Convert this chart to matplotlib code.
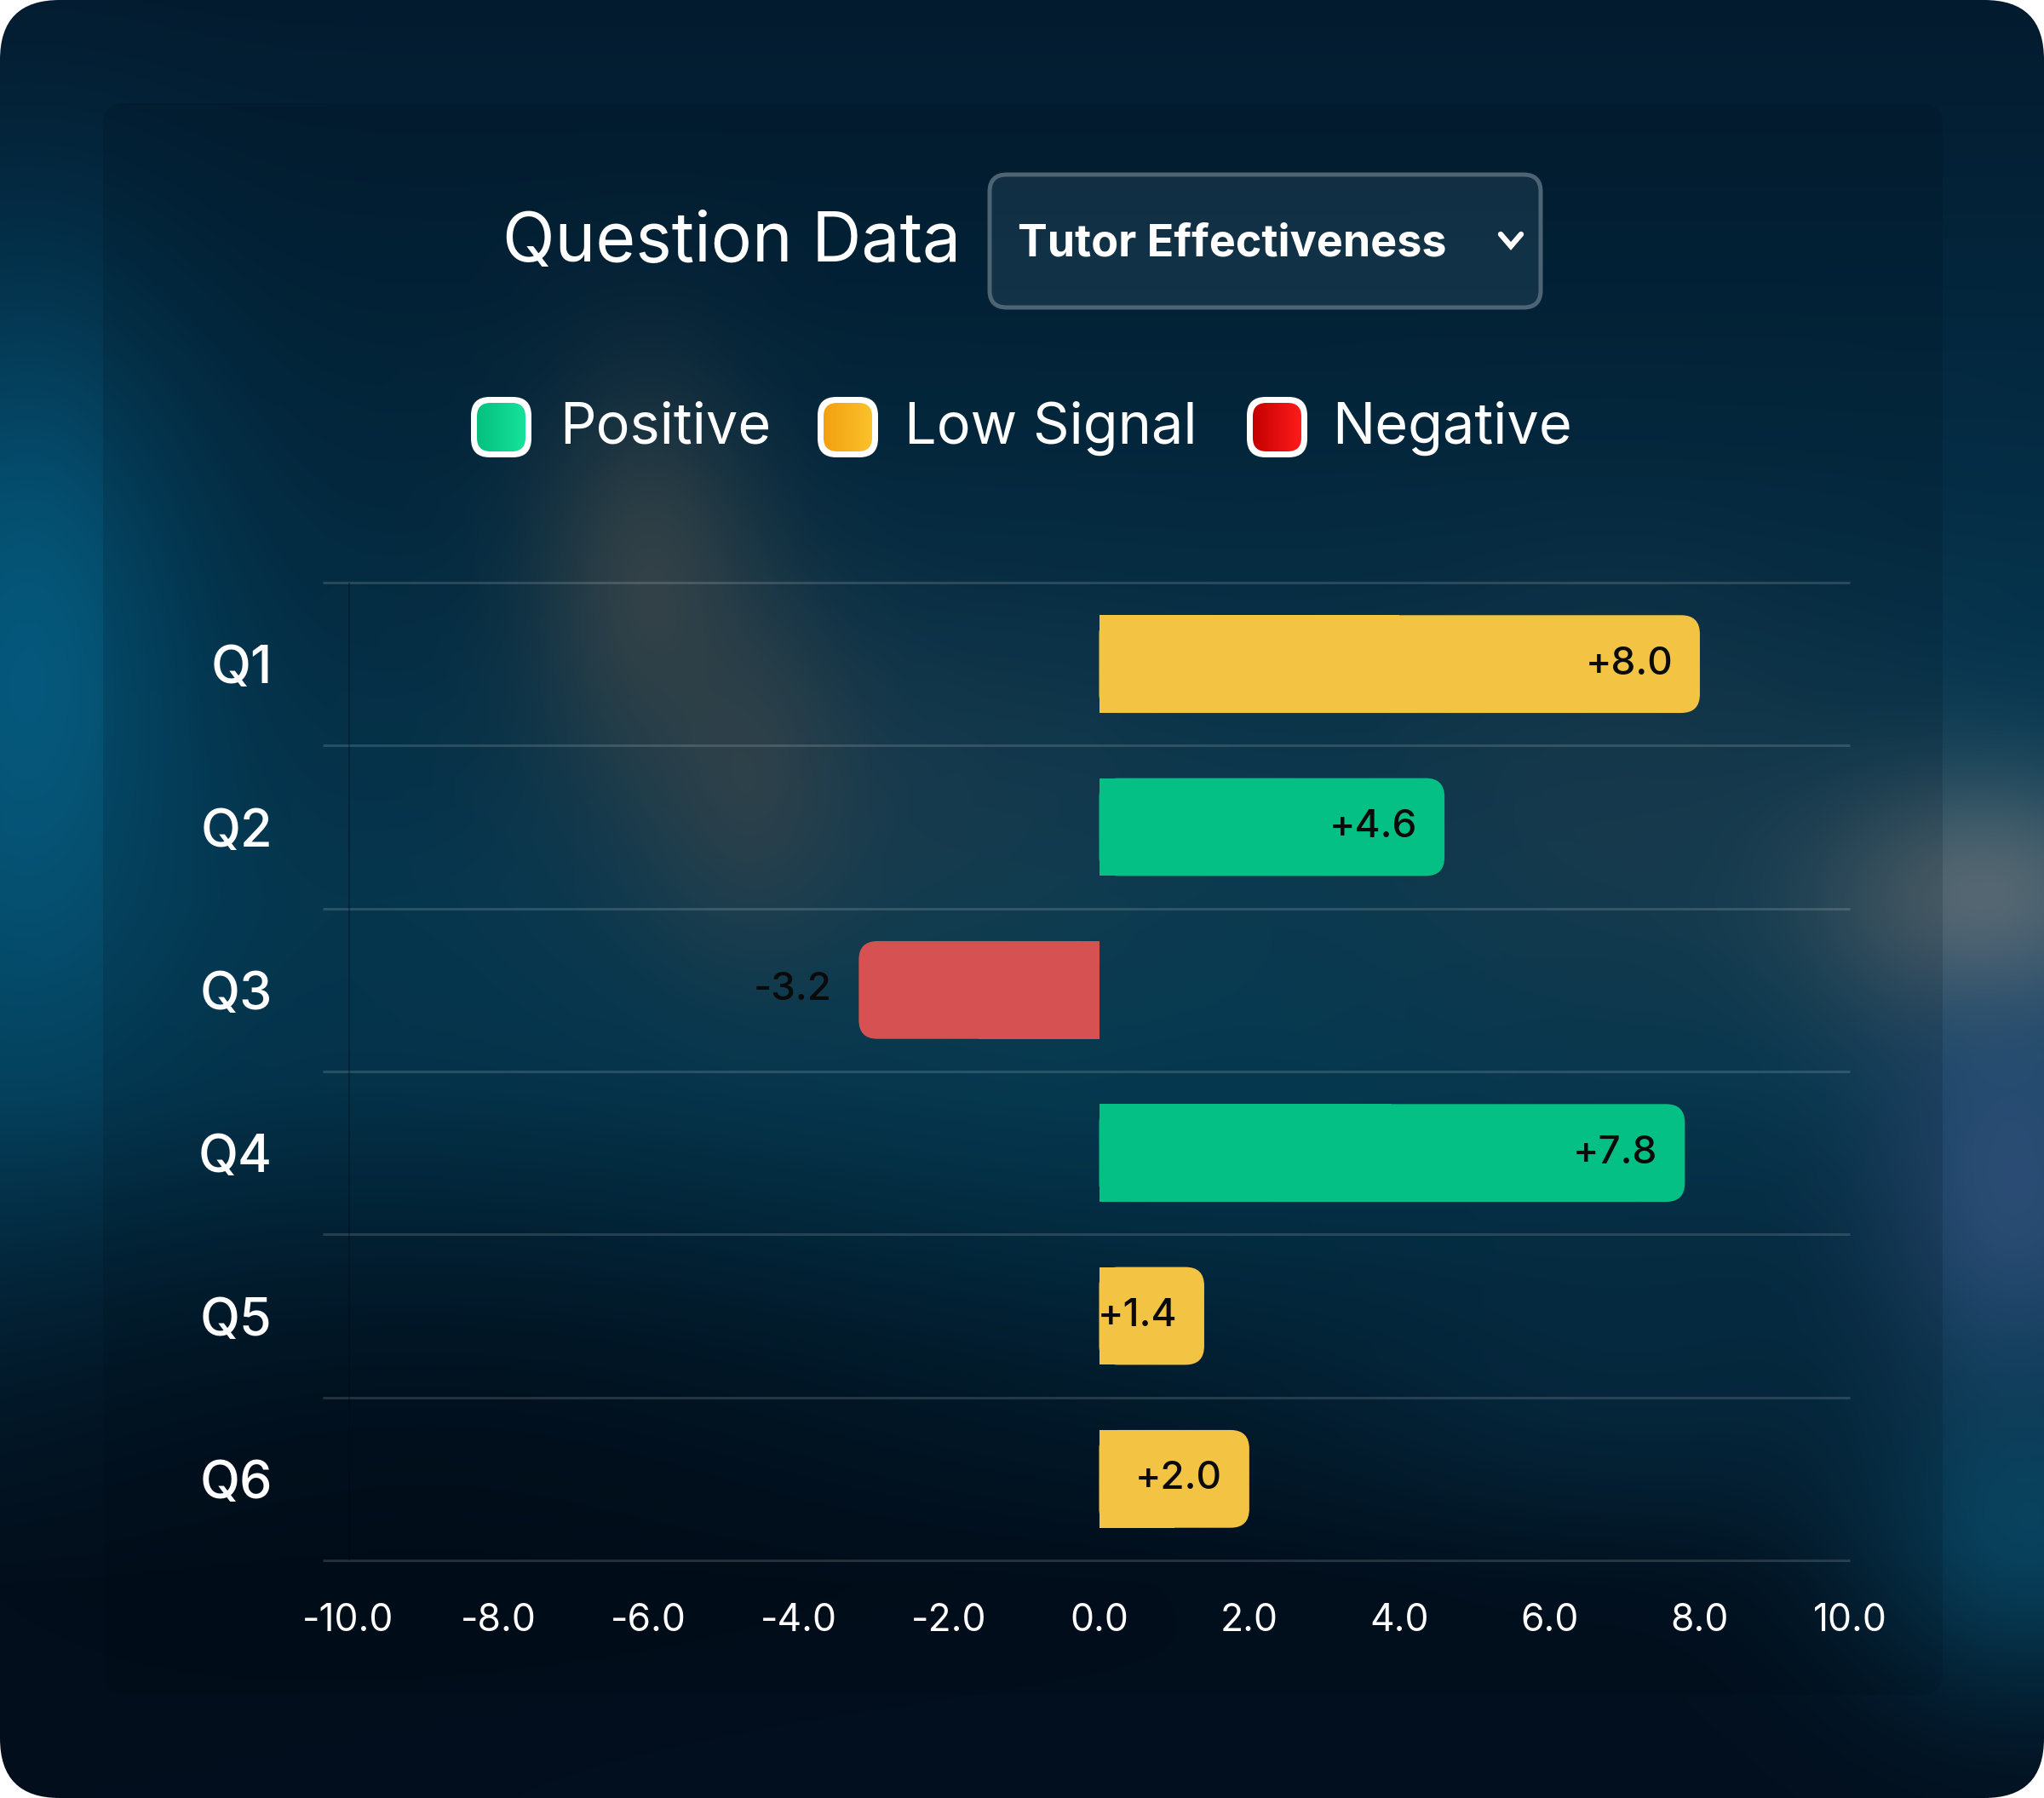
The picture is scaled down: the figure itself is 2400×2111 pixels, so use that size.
import numpy as np
import matplotlib
matplotlib.use("Agg")
import matplotlib.pyplot as plt
from matplotlib.patches import FancyBboxPatch
from matplotlib.lines import Line2D

plt.rcParams['font.family'] = ['Inter', 'DejaVu Sans']
plt.rcParams['axes.unicode_minus'] = False

# data
questions = ['Q1', 'Q2', 'Q3', 'Q4', 'Q5', 'Q6']
scores = [8.0, 4.6, -3.2, 7.8, 1.4, 2.0]
signal = ['low', 'positive', 'negative', 'positive', 'low', 'low']
legend_labels = ['Positive', 'Low Signal', 'Negative']
xticks = [-10, -8, -6, -4, -2, 0, 2, 4, 6, 8, 10]
title = 'Question Data'
dropdown = 'Tutor Effectiveness'

bar_col = {'positive': '#05C085', 'low': '#F3C444', 'negative': '#D55152'}
swatch_grad = [('#05c07f', '#16e29c'), ('#f3a010', '#fac22c'), ('#c40000', '#ff1c1c')]

W, H = 2400, 2111
fig = plt.figure(figsize=(W / 100, H / 100), dpi=100, facecolor='white')

# ---- background card ----
bg = fig.add_axes([0, 0, 1, 1])
bg.axis('off')

sc = 4
yy, xx = np.mgrid[0:H:sc, 0:W:sc].astype(float)
def hexrgb(h):
    h = h.lstrip('#')
    return np.array([int(h[i:i + 2], 16) / 255 for i in (0, 2, 4)])

t = yy / H
top, mid, bot = hexrgb('#031b2f'), hexrgb('#053d58'), hexrgb('#020f1d')
w1 = np.clip(t / 0.5, 0, 1)[..., None]
img = top * (1 - w1) + mid * w1
w2 = np.clip((t - 0.6) / 0.28, 0, 1)[..., None]
img = img * (1 - w2) + bot * w2

def blob(cx, cy, sx, sy, col, s):
    global img
    w = s * np.exp(-(((xx - cx) / sx) ** 2 + ((yy - cy) / sy) ** 2))
    img = img * (1 - w[..., None]) + hexrgb(col) * w[..., None]

blob(30, 800, 200, 420, '#055a7e', 0.95)
blob(1250, 1150, 550, 280, '#04465f', 0.7)
blob(1050, 950, 420, 260, '#2f4858', 0.5)
blob(760, 680, 130, 230, '#4f5552', 0.7)
blob(880, 900, 120, 200, '#4a5253', 0.55)
blob(1900, 950, 330, 280, '#2c4757', 0.55)
blob(2330, 1060, 200, 150, '#5f6d72', 0.95)
blob(2360, 1400, 170, 260, '#30507a', 0.9)
blob(2380, 1800, 220, 200, '#0a5474', 0.7)
blob(1900, 1600, 350, 200, '#0a3a55', 0.5)
blob(500, 1750, 700, 330, '#020c18', 0.7)
blob(1200, 2100, 900, 150, '#021022', 0.6)

card = FancyBboxPatch((0, 0), W, H, boxstyle='round,pad=0,rounding_size=70',
                      facecolor='none', edgecolor='none')
bg.add_patch(card)
im = bg.imshow(img, extent=(0, W, H, 0), interpolation='bilinear', aspect='auto',
               zorder=0)
im.set_clip_path(card)

panel = FancyBboxPatch((121, 121), 2160, 1869, boxstyle='round,pad=0,rounding_size=26',
                       facecolor='#000a14', edgecolor='none', alpha=0.15, zorder=0.5)
bg.add_patch(panel)

# title + dropdown
bg.text(1128, 286, title, ha='right', va='center', color='white', fontsize=58)
box = FancyBboxPatch((1162, 205), 647, 156, boxstyle='round,pad=0,rounding_size=20',
                     facecolor=(0.6, 0.8, 0.9, 0.1), edgecolor='#4d6474', linewidth=3.6,
                     zorder=1)
bg.add_patch(box)
bg.text(1195, 287, dropdown, ha='left', va='center', color='white', fontsize=37.5,
        fontweight='bold')
bg.add_line(Line2D([1762, 1774, 1786], [275, 289, 275], color='white', lw=4.6,
                   solid_capstyle='round', solid_joinstyle='miter'))

# legend
sw_x = [553, 960, 1464]
lab_x = [657, 1062, 1564]
for (c0, c1), sx, lx, lab in zip(swatch_grad, sw_x, lab_x, legend_labels):
    outer = FancyBboxPatch((sx, 466), 71, 71, boxstyle='round,pad=0,rounding_size=22',
                           facecolor='white', edgecolor='none', zorder=1)
    bg.add_patch(outer)
    inner = FancyBboxPatch((sx + 7, 473), 57, 57, boxstyle='round,pad=0,rounding_size=16',
                           facecolor='none', edgecolor='none')
    bg.add_patch(inner)
    g = np.linspace(0, 1, 64)[None, :, None]
    grad = hexrgb(c0) * (1 - g) + hexrgb(c1) * g
    gi = bg.imshow(np.repeat(grad, 8, axis=0), extent=(sx + 7, sx + 64, 530, 473),
                   aspect='auto', interpolation='bilinear', zorder=2)
    gi.set_clip_path(inner)
    bg.text(lx, 503, lab, ha='left', va='center', color='white', fontsize=48)
bg.set_xlim(0, W)
bg.set_ylim(H, 0)

# ---- bar chart ----
ax = fig.add_axes([408.7 / W, 1 - 1832 / H, 1763.6 / W, 1148 / H])
ax.patch.set_alpha(0)
ax.set_xlim(-10, 10)
ax.set_ylim(len(questions) - 0.5, -0.5)
for s in ax.spines.values():
    s.set_visible(False)

ypos = np.arange(len(questions))
for yb in np.arange(-0.5, len(questions)):
    ax.plot([-10.34, 10], [yb, yb], color='white', alpha=0.14, lw=2.2,
            clip_on=False, zorder=1, solid_capstyle='butt')
ax.plot([-10, -10], [-0.5, len(questions) - 0.5], color='#000814', alpha=0.35,
        lw=2.2, zorder=2)

bh = 0.6
rx = 0.25
ry = rx * (1763.6 / 20) / (1148 / len(questions))
for y, v, k in zip(ypos, scores, signal):
    c = bar_col[k]
    ax.add_patch(FancyBboxPatch((min(0, v), y - bh / 2), abs(v), bh,
                                boxstyle=f'round,pad=0,rounding_size={rx}',
                                mutation_aspect=ry / rx, facecolor=c,
                                edgecolor='none', zorder=3))
    ax.barh(y, v / 2, height=bh, color=c, zorder=3)
    ax.text(v - 0.36, y, f'{v:+.1f}', ha='right', va='center', color='#0a0a0a',
            fontsize=33, fontweight='medium', zorder=4)

ax.set_xticks(xticks)
ax.set_xticklabels([f'{x:.1f}' for x in xticks])
ax.set_yticks(ypos)
ax.set_yticklabels(questions)
ax.tick_params(axis='x', length=0, pad=36, labelsize=32, labelcolor='white')
ax.tick_params(axis='y', length=0, pad=64, labelsize=44, labelcolor='white')
for lbl in ax.get_yticklabels():
    lbl.set_fontweight('medium')

fig.savefig('out.png', dpi=100, facecolor='white')
